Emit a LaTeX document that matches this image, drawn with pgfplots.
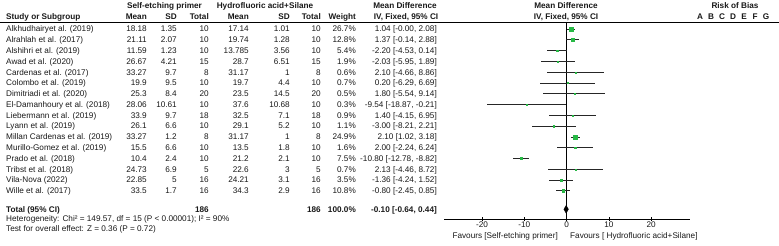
\documentclass[border=0pt]{standalone}
\usepackage{fontspec}
\setmainfont{Liberation Sans}
\usepackage{pgfplots}
\usepackage{pgfplotstable}
\pgfplotsset{compat=1.18}
\definecolor{SqGreen}{RGB}{40,185,70}
\definecolor{TxtDark}{RGB}{25,25,25}
\newcommand{\fs}{\fontsize{8.2}{9.5}\selectfont}

% row, mean difference, CI low, CI high, weight (%)
\pgfplotstableread{
row md lo hi w
1 1.04 -0.00 2.08 26.7
2 1.37 -0.14 2.88 12.8
3 -2.20 -4.53 0.14 5.4
4 -2.03 -5.95 1.89 1.9
5 2.10 -4.66 8.86 0.6
6 0.20 -6.29 6.69 0.7
7 1.80 -5.54 9.14 0.5
8 -9.54 -18.87 -0.21 0.3
9 1.40 -4.15 6.95 0.9
10 -3.00 -8.21 2.21 1.1
11 2.10 1.02 3.18 24.9
12 2.00 -2.24 6.24 1.6
13 -10.80 -12.78 -8.82 7.5
14 2.13 -4.46 8.72 0.7
15 -1.36 -4.24 1.52 3.5
16 -0.80 -2.45 0.85 10.8
}\forestdata

\begin{document}
\begin{tikzpicture}[font=\fs,
  txt/.style={inner sep=0pt, text=TxtDark}]
\begin{scope}[x=1pt,y=-1pt]
% header
\begin{scope}[every node/.style={txt,font=\fs\bfseries}]
\node[anchor=base] at (164.5,8.9) {Self-etching primer};
\node[anchor=base] at (265,8.9) {Hydrofluoric acid+Silane};
\node[anchor=base] at (405,8.9) {Mean Difference};
\node[anchor=base] at (566,8.9) {Mean Difference};
\node[anchor=base] at (735,8.9) {Risk of Bias};
\node[anchor=base west] at (6,19.4) {Study or Subgroup};
\node[anchor=base east] at (147,19.4) {Mean};
\node[anchor=base east] at (177,19.4) {SD};
\node[anchor=base east] at (209,19.4) {Total};
\node[anchor=base east] at (249,19.4) {Mean};
\node[anchor=base east] at (290,19.4) {SD};
\node[anchor=base east] at (321,19.4) {Total};
\node[anchor=base east] at (356,19.4) {Weight};
\node[anchor=base] at (406,19.4) {IV, Fixed, 95\% CI};
\node[anchor=base] at (566,19.4) {IV, Fixed, 95\% CI};
\foreach \l [count=\k from 0] in {A,B,C,D,E,F,G}
  \node[anchor=base] at (700+11*\k,19.4) {\l};
\end{scope}
\draw[black, line width=0.6pt] (0,22) -- (779,22);

% study rows
\foreach \r/\name/\ma/\sa/\na/\mb/\sb/\nb/\wt/\ci in {
 1/Alkhudhairyet al. (2019)/18.18/1.35/10/17.14/1.01/10/26.7\%/{1.04 [-0.00, 2.08]},
 2/Alrahlah et al. (2017)/21.11/2.07/10/19.74/1.28/10/12.8\%/{1.37 [-0.14, 2.88]},
 3/Alshihri et al. (2019)/11.59/1.23/10/13.785/3.56/10/5.4\%/{-2.20 [-4.53, 0.14]},
 4/Awad et al. (2020)/26.67/4.21/15/28.7/6.51/15/1.9\%/{-2.03 [-5.95, 1.89]},
 5/Cardenas et al. (2017)/33.27/9.7/8/31.17/1/8/0.6\%/{2.10 [-4.66, 8.86]},
 6/Colombo et al. (2019)/19.9/9.5/10/19.7/4.4/10/0.7\%/{0.20 [-6.29, 6.69]},
 7/Dimitriadi et al. (2020)/25.3/8.4/20/23.5/14.5/20/0.5\%/{1.80 [-5.54, 9.14]},
 8/El-Damanhoury et al. (2018)/28.06/10.61/10/37.6/10.68/10/0.3\%/{-9.54 [-18.87, -0.21]},
 9/Liebermann et al. (2019)/33.9/9.7/18/32.5/7.1/18/0.9\%/{1.40 [-4.15, 6.95]},
 10/Lyann et al. (2019)/26.1/6.6/10/29.1/5.2/10/1.1\%/{-3.00 [-8.21, 2.21]},
 11/Millan Cardenas et al. (2019)/33.27/1.2/8/31.17/1/8/24.9\%/{2.10 [1.02, 3.18]},
 12/Murillo-Gomez et al. (2019)/15.5/6.6/10/13.5/1.8/10/1.6\%/{2.00 [-2.24, 6.24]},
 13/Prado et al. (2018)/10.4/2.4/10/21.2/2.1/10/7.5\%/{-10.80 [-12.78, -8.82]},
 14/Tribst et al. (2018)/24.73/6.9/5/22.6/3/5/0.7\%/{2.13 [-4.46, 8.72]},
 15/Vila-Nova (2022)/22.85/5/16/24.21/3.1/16/3.5\%/{-1.36 [-4.24, 1.52]},
 16/Wille et al. (2017)/33.5/1.7/16/34.3/2.9/16/10.8\%/{-0.80 [-2.45, 0.85]}}{
  \pgfmathsetmacro{\yy}{29+(\r-1)*10.78+2.9}
  \node[txt,anchor=base west] at (6,\yy) {\name};
  \node[txt,anchor=base east] at (147,\yy) {\ma};
  \node[txt,anchor=base east] at (177,\yy) {\sa};
  \node[txt,anchor=base east] at (209,\yy) {\na};
  \node[txt,anchor=base east] at (249,\yy) {\mb};
  \node[txt,anchor=base east] at (290,\yy) {\sb};
  \node[txt,anchor=base east] at (321,\yy) {\nb};
  \node[txt,anchor=base east] at (356,\yy) {\wt};
  \node[txt,anchor=base east] at (437,\yy) {\ci};
}

% total and notes
\begin{scope}[every node/.style={txt,font=\fs\bfseries}]
\node[anchor=base west] at (6,212.2) {Total (95\% CI)};
\node[anchor=base east] at (209,212.2) {186};
\node[anchor=base east] at (321,212.2) {186};
\node[anchor=base east] at (356,212.2) {100.0\%};
\node[anchor=base east] at (437,212.2) {-0.10 [-0.64, 0.44]};
\end{scope}
\node[txt,anchor=base west] at (6,221.9) {Heterogeneity: Chi² = 149.57, df = 15 (P < 0.00001); I² = 90\%};
\node[txt,anchor=base west] at (6,231.9) {Test for overall effect: Z = 0.36 (P = 0.72)};
\node[txt,anchor=base east] at (558,238.3) {Favours [Self-etching primer]};
\node[txt,anchor=base west] at (570,238.3) {Favours [ Hydrofluoric acid+Silane]};
\end{scope}

\begin{axis}[at={(444.3pt,-219pt)}, anchor=south west, scale only axis,
  width=245.8pt, height=197pt,
  xmin=-28.9, xmax=29.2, ymin=-219, ymax=-22, clip=false,
  axis x line*=bottom, axis y line=none,
  axis line style={black, line width=0.6pt},
  xtick={-20,-10,0,10,20}, tick align=center, major tick length=4pt,
  tick style={black, line width=0.6pt},
  /pgf/number format/assume math mode=true,
  xticklabel style={font=\fs, inner sep=1pt, text=TxtDark}]
  % line of no effect
  \addplot[black, line width=0.6pt] coordinates {(0,-22) (0,-219)};
  % confidence intervals
  \addplot[draw=none, mark=none,
    error bars/.cd, x dir=both, x explicit, error mark=none,
    error bar style={black!85, line width=0.6pt}]
    table[x=md, y expr={-(29+(\thisrow{row}-1)*10.78)},
      x error minus expr={\thisrow{md}-\thisrow{lo}},
      x error plus expr={\thisrow{hi}-\thisrow{md}}] {\forestdata};
  % study weights
  \addplot[scatter, only marks, mark=square*, mark options={line width=0.1pt},
    scatter/use mapped color={draw=SqGreen, fill=SqGreen},
    visualization depends on={max(0.55, 0.4*sqrt(\thisrow{w})) \as \msz},
    scatter/@pre marker code/.append style={/tikz/mark size=\msz}]
    table[x=md, y expr={-(29+(\thisrow{row}-1)*10.78)}] {\forestdata};
  % pooled estimate
  \addplot[black, fill=black, line width=0.3pt] coordinates
    {(-0.64,-209.3) (-0.10,-205.3) (0.44,-209.3) (-0.10,-213.3)} -- cycle;
\end{axis}

\pgfresetboundingbox
\path[use as bounding box] (0pt,0pt) rectangle (779pt,-246pt);
\end{tikzpicture}
\end{document}
